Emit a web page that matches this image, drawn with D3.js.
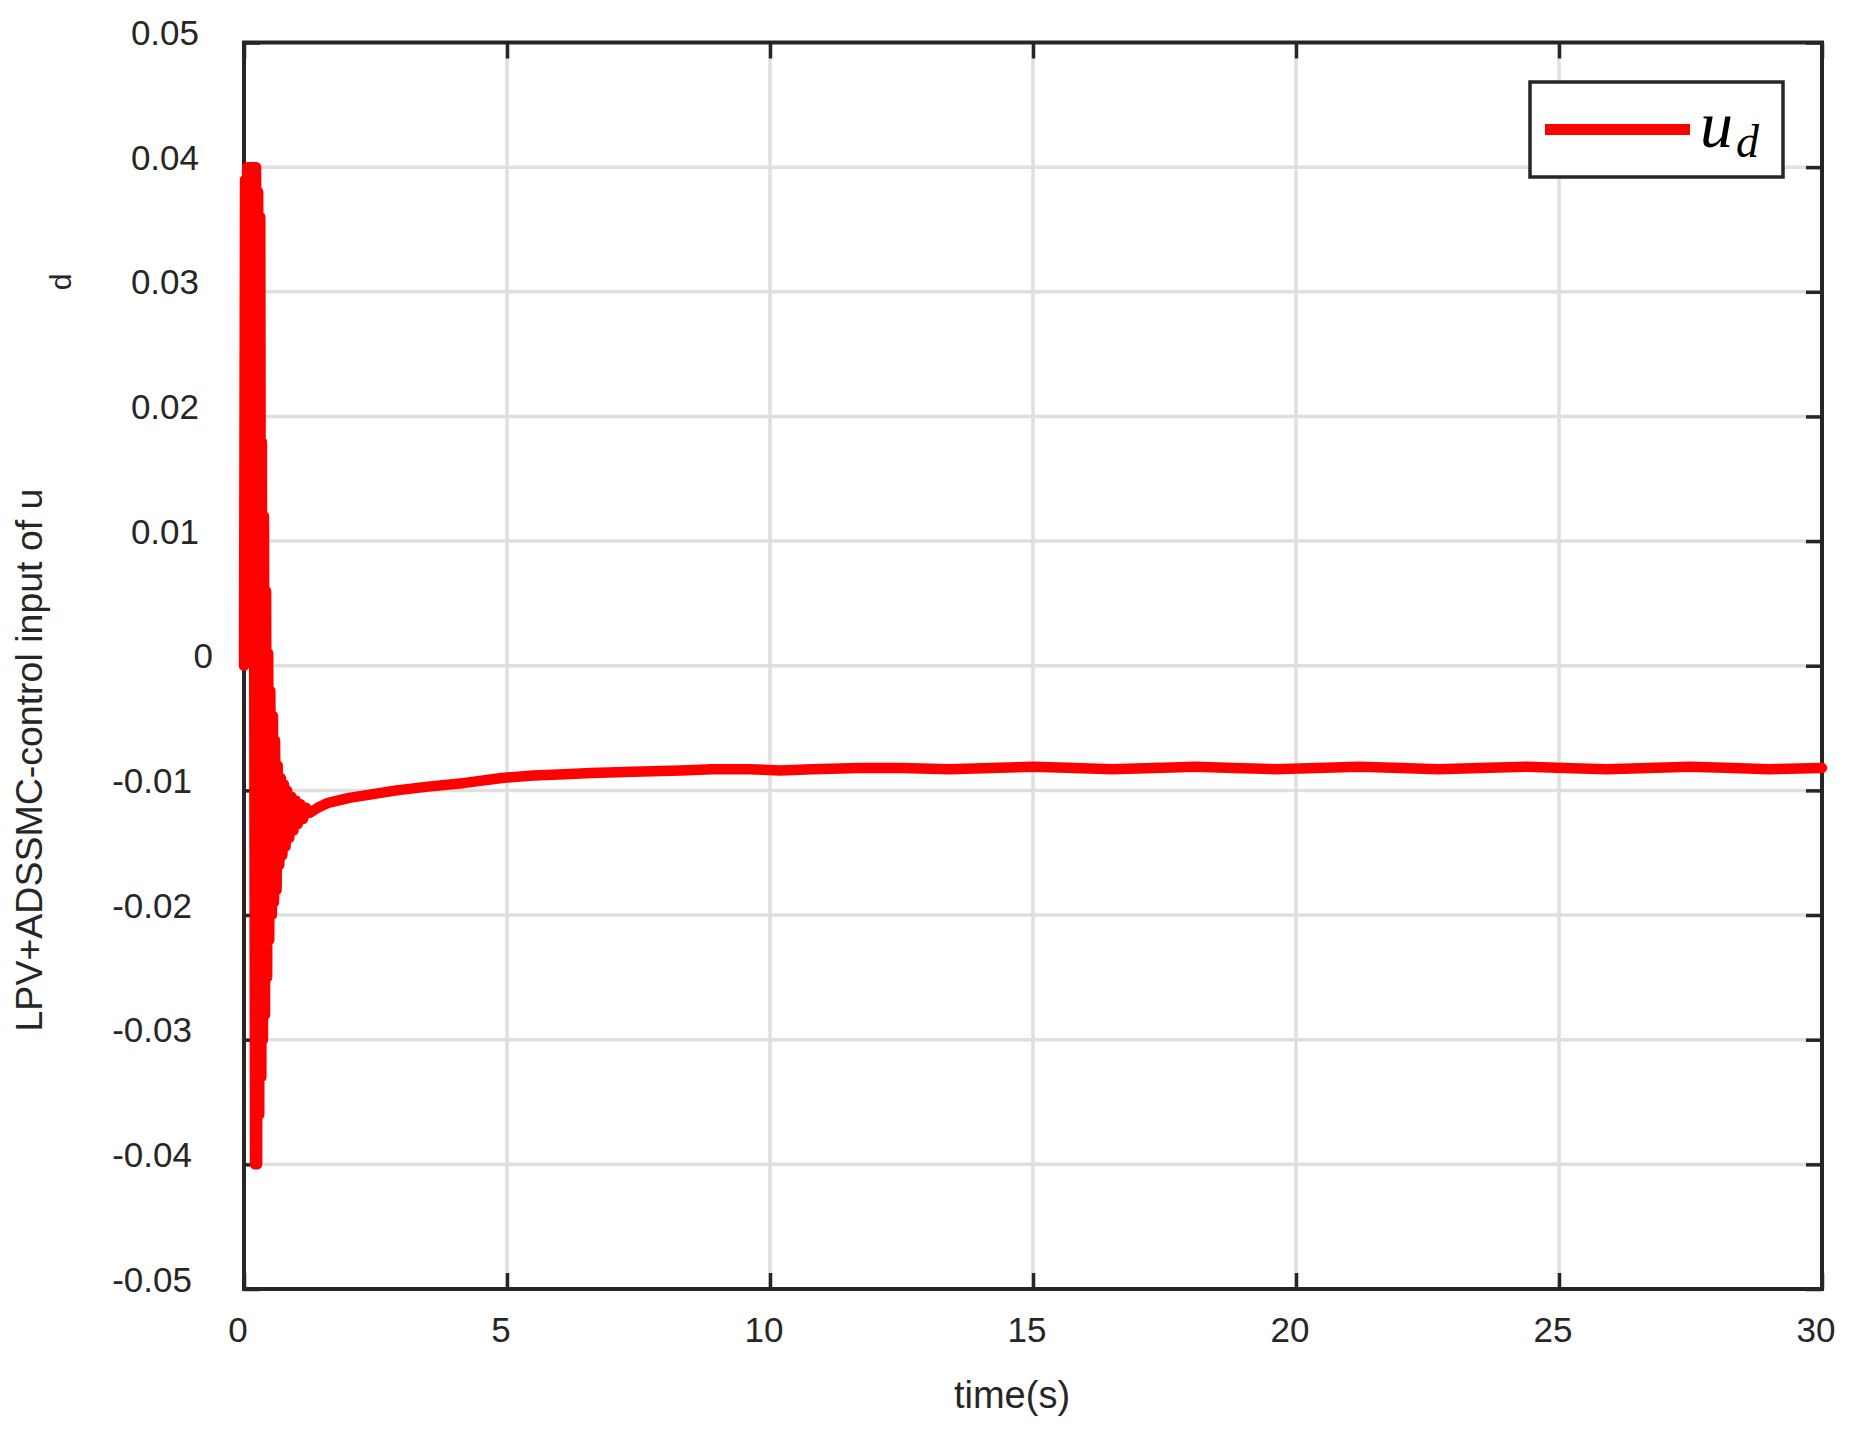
<!DOCTYPE html>
<html>
<head>
<meta charset="utf-8">
<script src="https://cdn.jsdelivr.net/npm/d3@7"></script>
<style>
  body { margin: 0; background: #fff; }
  text { font-family: "Liberation Sans", Arial, sans-serif; fill: #262626; }
</style>
</head>
<body>
<div class="visArea"></div>
<script>
// Size of the picture
var width = 1850;
var height = 1433;

// Data (time in s, control input u_d)
var timeValues = [0.00, 0.02, 0.04, 0.06, 0.08, 0.10, 0.12, 0.14, 0.16, 0.18,
  0.21, 0.23, 0.25, 0.27, 0.29, 0.31, 0.33, 0.34, 0.36, 0.38,
  0.40, 0.42, 0.44, 0.46, 0.48, 0.50, 0.53, 0.55, 0.57, 0.59,
  0.62, 0.64, 0.67, 0.70, 0.73, 0.76, 0.79, 0.82, 0.86, 0.90,
  0.94, 0.98, 1.02, 1.07, 1.12, 1.18, 1.25, 1.4, 1.6, 2.0,
  2.3, 2.9, 3.5, 4.2, 4.9, 5.5, 6.1, 6.6, 7.4, 8.3,
  8.9, 9.6, 10.2, 10.8, 11.7, 12.5, 13.4, 14.2, 15.0, 15.8,
  16.5, 17.3, 18.1, 18.8, 19.6, 20.4, 21.2, 22.0, 22.7, 23.5,
  24.4, 25.1, 25.9, 26.7, 27.5, 28.3, 29.0, 30.0];

var udValues = [0.000, 0.039, 0.004, 0.040, 0.003, 0.040, 0.004, 0.040, 0.003, 0.040,
  -0.040, 0.040, -0.040, 0.038, -0.036, 0.036, -0.033, 0.018, -0.030, 0.012,
  -0.028, 0.006, -0.025, 0.001, -0.022, -0.002, -0.020, -0.004, -0.019, -0.006,
  -0.018, -0.008, -0.016, -0.009, -0.0152, -0.0095, -0.0145, -0.0100, -0.0138, -0.0105,
  -0.0132, -0.0108, -0.0127, -0.0111, -0.0123, -0.0114, -0.0118, -0.0114, -0.0110, -0.0106,
  -0.0104, -0.0100, -0.0097, -0.0094, -0.0090, -0.0088, -0.0087, -0.0086, -0.0085, -0.0084,
  -0.0083, -0.0083, -0.0084, -0.0083, -0.0082, -0.0082, -0.0083, -0.0082, -0.0081, -0.0082,
  -0.0083, -0.0082, -0.0081, -0.0082, -0.0083, -0.0082, -0.0081, -0.0082, -0.0083, -0.0082,
  -0.0081, -0.0082, -0.0083, -0.0082, -0.0081, -0.0082, -0.0083, -0.0082];

var xTicks = [0, 5, 10, 15, 20, 25, 30];
var xTickLabels = ['0', '5', '10', '15', '20', '25', '30'];
var yTicks = [-0.05, -0.04, -0.03, -0.02, -0.01, 0, 0.01, 0.02, 0.03, 0.04, 0.05];
var yTickLabels = ['-0.05', '-0.04', '-0.03', '-0.02', '-0.01', '0', '0.01', '0.02', '0.03', '0.04', '0.05'];

// Plot box
var plotLeft = 244, plotRight = 1822, plotTop = 42.5, plotBottom = 1289;
var axisColor = '#262626';
var gridColor = '#dfdfdf';

var x = d3.scaleLinear().domain([0, 30]).range([plotLeft, plotRight]);
var y = d3.scaleLinear().domain([-0.05, 0.05]).range([plotBottom, plotTop]);

var svg = d3.select('.visArea')
  .append('svg')
  .attr('width', width)
  .attr('height', height);

svg.append('rect')
  .attr('width', width)
  .attr('height', height)
  .style('fill', '#fff');

// Grid lines
var grid = svg.append('g');
grid.selectAll('.vgrid')
  .data(xTicks.slice(1, -1))
  .enter().append('line')
  .attr('x1', d => x(d)).attr('x2', d => x(d))
  .attr('y1', plotTop).attr('y2', plotBottom)
  .style('stroke', gridColor)
  .style('stroke-width', 3.5);
grid.selectAll('.hgrid')
  .data(yTicks.slice(1, -1))
  .enter().append('line')
  .attr('x1', plotLeft).attr('x2', plotRight)
  .attr('y1', d => y(d)).attr('y2', d => y(d))
  .style('stroke', gridColor)
  .style('stroke-width', 3.5);

// Axes (ticks point inward on all four sides)
var tickLen = 16;
function styleAxis(g) {
  g.select('.domain').remove();
  g.selectAll('.tick line').style('stroke', axisColor).style('stroke-width', 3.5);
  g.selectAll('.tick text').remove();
}
svg.append('g')
  .attr('transform', 'translate(0,' + plotBottom + ')')
  .call(d3.axisBottom(x).tickValues(xTicks).tickSize(-tickLen))
  .call(styleAxis);
svg.append('g')
  .attr('transform', 'translate(0,' + plotTop + ')')
  .call(d3.axisTop(x).tickValues(xTicks).tickSize(-tickLen))
  .call(styleAxis);
svg.append('g')
  .attr('transform', 'translate(' + plotLeft + ',0)')
  .call(d3.axisLeft(y).tickValues(yTicks).tickSize(-tickLen))
  .call(styleAxis);
svg.append('g')
  .attr('transform', 'translate(' + plotRight + ',0)')
  .call(d3.axisRight(y).tickValues(yTicks).tickSize(-tickLen))
  .call(styleAxis);

// Frame
svg.append('rect')
  .attr('x', plotLeft)
  .attr('y', plotTop)
  .attr('width', plotRight - plotLeft)
  .attr('height', plotBottom - plotTop)
  .style('fill', 'none')
  .style('stroke', axisColor)
  .style('stroke-width', 4);

// Tick labels
svg.selectAll('.xlabel')
  .data(xTicks)
  .enter().append('text')
  .attr('x', d => x(d) - 6)
  .attr('y', 1342)
  .attr('text-anchor', 'middle')
  .style('font-size', '35px')
  .text((d, i) => xTickLabels[i]);

svg.selectAll('.ylabel')
  .data(yTicks)
  .enter().append('text')
  .attr('x', d => d < 0 ? 192 : (d === 0 ? 213 : 199))
  .attr('y', d => y(d) + 2.5)
  .attr('text-anchor', 'end')
  .style('font-size', '35px')
  .text((d, i) => yTickLabels[i]);

// Axis titles
svg.append('text')
  .attr('x', 1012)
  .attr('y', 1408)
  .attr('text-anchor', 'middle')
  .style('font-size', '38px')
  .text('time(s)');

svg.append('text')
  .attr('transform', 'translate(42,760) rotate(-90)')
  .attr('text-anchor', 'middle')
  .style('font-size', '37.5px')
  .text('LPV+ADSSMC-control input of u');

svg.append('text')
  .attr('transform', 'translate(71,282) rotate(-90)')
  .attr('text-anchor', 'middle')
  .style('font-size', '30px')
  .text('d');

// Data line
var line = d3.line()
  .x(d => x(d[0]))
  .y(d => y(d[1]));

svg.append('path')
  .datum(d3.zip(timeValues, udValues))
  .attr('d', line)
  .style('fill', 'none')
  .style('stroke', '#ff0000')
  .style('stroke-width', 10.5)
  .style('stroke-linejoin', 'round')
  .style('stroke-linecap', 'round');

// Legend
var legend = svg.append('g');
legend.append('rect')
  .attr('x', 1530)
  .attr('y', 82)
  .attr('width', 253)
  .attr('height', 95)
  .style('fill', '#fff')
  .style('stroke', axisColor)
  .style('stroke-width', 3.5);
legend.append('line')
  .attr('x1', 1545).attr('x2', 1690)
  .attr('y1', 129.5).attr('y2', 129.5)
  .style('stroke', '#ff0000')
  .style('stroke-width', 11);
var legendText = legend.append('text')
  .attr('x', 1700)
  .attr('y', 147)
  .style('font-family', '"Liberation Serif", "Times New Roman", serif')
  .style('font-style', 'italic')
  .style('fill', '#000');
legendText.append('tspan')
  .style('font-size', '66px')
  .text('u');
legendText.append('tspan')
  .attr('dy', 10)
  .attr('dx', 3)
  .style('font-size', '46px')
  .text('d');
</script>
</body>
</html>
